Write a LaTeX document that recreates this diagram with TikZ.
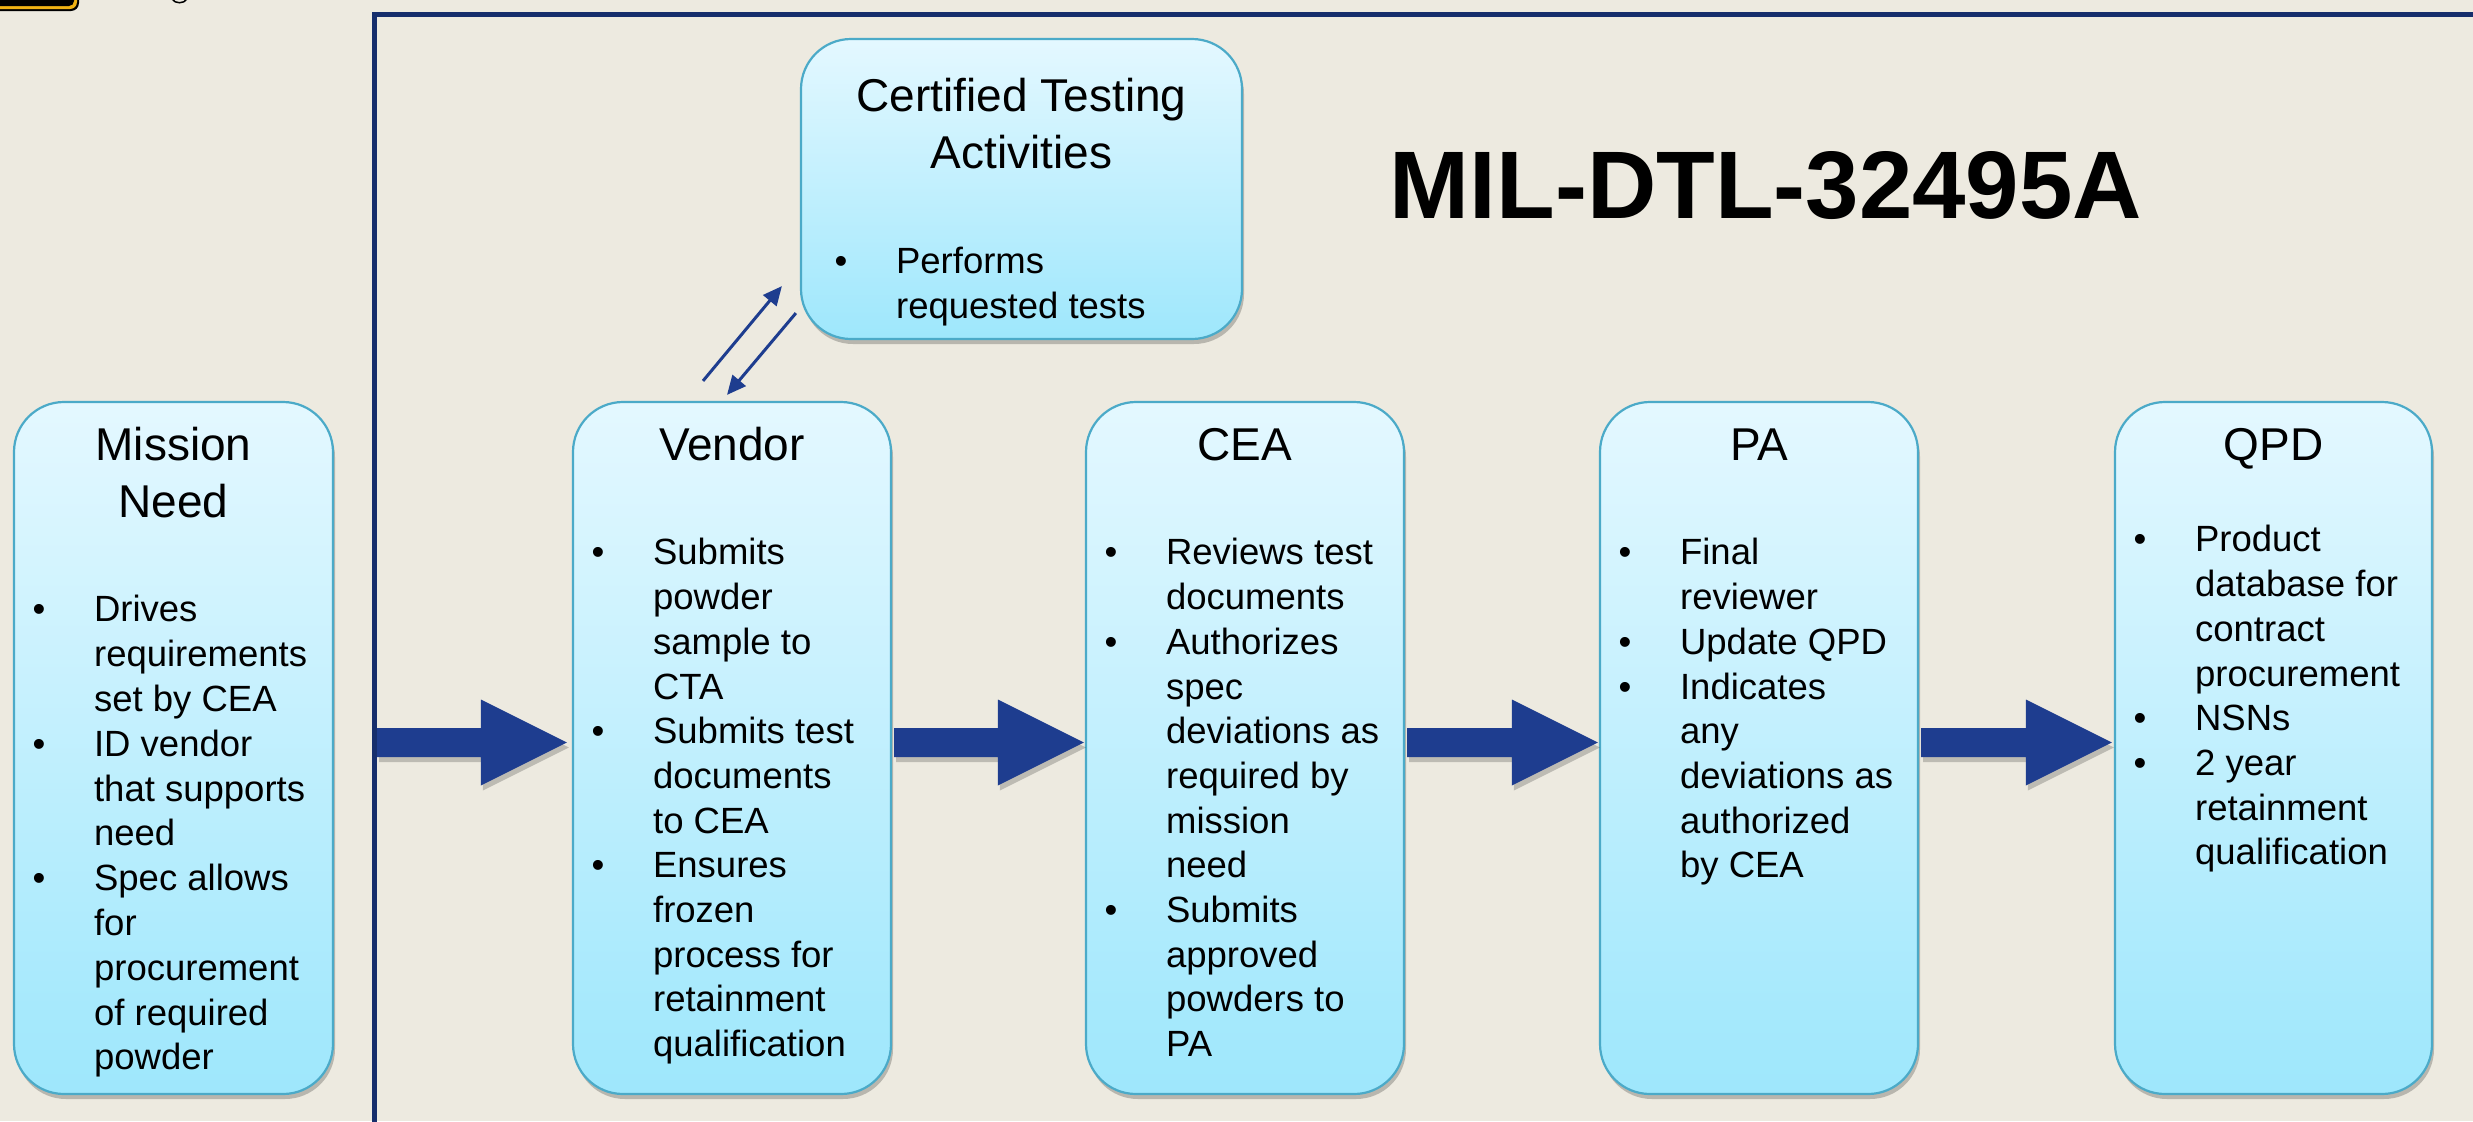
\documentclass[tikz,border=0pt]{standalone}
\usepackage{fontspec}
\setmainfont{Liberation Sans}
\usetikzlibrary{calc,arrows.meta,shadows}
\definecolor{bg}{RGB}{237,234,224}
\definecolor{boxtop}{RGB}{228,248,255}
\definecolor{boxbot}{RGB}{158,231,252}
\definecolor{boxline}{RGB}{75,170,200}
\definecolor{arrowblue}{RGB}{30,61,143}
\definecolor{navy}{RGB}{22,46,108}
\definecolor{logoyellow}{RGB}{240,178,20}

\newcommand\bitm[1]{\hbox{\llap{\makebox[0pt]{\textbullet}\kern55bp}#1}}
\newcommand\litm[1]{\hbox{#1}}
\newcommand\bodylines[2]{\vtop{\baselineskip=#1\lineskiplimit=-100bp #2}}
\newcommand\ttllines[1]{\vtop{\baselineskip=57bp\lineskiplimit=-100bp\halign{\hfil##\hfil\cr#1\crcr}}}
\newcommand\bigarrow[2]{%
  \fill[black,opacity=0.2] ($(#1)+(2,-9.5)$) -- ($(#2)+(-84,-9.5)$) -- ($(#2)+(-84,-38)$) -- ($(#2)+(2,5)$) -- ($(#2)+(-84,48)$) -- ($(#2)+(-84,19.5)$) -- ($(#1)+(2,19.5)$) -- cycle;
  \fill[arrowblue] ($(#1)+(0,-14.5)$) -- ($(#2)+(-86,-14.5)$) -- ($(#2)+(-86,-43)$) -- (#2) -- ($(#2)+(-86,43)$) -- ($(#2)+(-86,14.5)$) -- ($(#1)+(0,14.5)$) -- cycle;%
}

\tikzset{
  box/.style={rectangle, rounded corners=50bp, draw=boxline, line width=2.2bp,
    top color=boxtop, bottom color=boxbot, inner sep=0pt,
    drop shadow={shadow xshift=2bp, shadow yshift=-5bp, opacity=0.22, fill=black}},
  ttl/.style={inner sep=0pt, anchor=base, font=\fontsize{46bp}{57bp}\selectfont},
  body/.style={inner sep=0pt, anchor=base west, font=\fontsize{36.5bp}{44.7bp}\selectfont},
  thinarrow/.style={draw=arrowblue, line width=3bp, -{Triangle[length=19bp,width=17bp,fill=arrowblue]}},
  frameline/.style={draw=navy, line width=5.5bp}
}

\begin{document}
\begin{tikzpicture}[x=1bp,y=-1bp]
\useasboundingbox (0,0) rectangle (2473,1121);
\fill[bg] (0,0) rectangle (2473,1121);

% logo fragment at top left
\fill[black, rounded corners=8bp] (-30,-40) rectangle (79,11);
\fill[logoyellow, rounded corners=7bp] (-30,-40) rectangle (77,9);
\fill[black, rounded corners=5bp] (-30,-40) rectangle (74,6);
\draw[black, line width=1.5bp] (172,-1) .. controls (175,4) and (184,4) .. (187,-1);

% frame
\draw[frameline] (374.5,1130) -- (374.5,14.5) -- (2480,14.5);

% boxes
\node[box, minimum width=319bp, minimum height=692bp] (mission) at (173.5,748) {};
\node[box, minimum width=318bp, minimum height=692bp] (vendor) at (732,748) {};
\node[box, minimum width=318bp, minimum height=692bp] (cea) at (1245,748) {};
\node[box, minimum width=318bp, minimum height=692bp] (pa) at (1759,748) {};
\node[box, minimum width=317bp, minimum height=692bp] (qpd) at (2273.5,748) {};
\node[box, minimum width=441bp, minimum height=300bp] (cta) at (1021.5,189) {};

% titles
\node[ttl] (missionT) at ($(mission.north)+(0,60)$) {\ttllines{Mission\cr Need}};
\node[ttl] (vendorT) at ($(vendor.north)+(0,60)$) {Vendor};
\node[ttl] (ceaT) at ($(cea.north)+(0,60)$) {CEA};
\node[ttl] (paT) at ($(pa.north)+(0,60)$) {PA};
\node[ttl] (qpdT) at ($(qpd.north)+(0,60)$) {QPD};
\node[ttl] (ctaT) at ($(cta.north)+(0,74)$) {\ttllines{Certified Testing\cr Activities}};

\node[inner sep=0pt, anchor=base, font=\fontsize{96bp}{110bp}\selectfont\bfseries] (mil) at (1766,218) {MIL-DTL-32495A};

% bodies
\node[body] (missionB) at ($(mission.north west)+(81,221)$) {\bodylines{44.8bp}{%
  \bitm{Drives}\litm{requirements}\litm{set by CEA}%
  \bitm{ID vendor}\litm{that supports}\litm{need}%
  \bitm{Spec allows}\litm{for}\litm{procurement}\litm{of required}\litm{powder}}};
\node[body] (vendorB) at ($(vendor.north west)+(81,164)$) {\bodylines{44.7bp}{%
  \bitm{Submits}\litm{powder}\litm{sample to}\litm{CTA}%
  \bitm{Submits test}\litm{documents}\litm{to CEA}%
  \bitm{Ensures}\litm{frozen}\litm{process for}\litm{retainment}\litm{qualification}}};
\node[body] (ceaB) at ($(cea.north west)+(81,164)$) {\bodylines{44.7bp}{%
  \bitm{Reviews test}\litm{documents}%
  \bitm{Authorizes}\litm{spec}\litm{deviations as}\litm{required by}\litm{mission}\litm{need}%
  \bitm{Submits}\litm{approved}\litm{powders to}\litm{PA}}};
\node[body] (paB) at ($(pa.north west)+(81,164)$) {\bodylines{44.7bp}{%
  \bitm{Final}\litm{reviewer}%
  \bitm{Update QPD}%
  \bitm{Indicates}\litm{any}\litm{deviations as}\litm{authorized}\litm{by CEA}}};
\node[body] (qpdB) at ($(qpd.north west)+(81,151)$) {\bodylines{44.7bp}{%
  \bitm{Product}\litm{database for}\litm{contract}\litm{procurement}%
  \bitm{NSNs}%
  \bitm{2 year}\litm{retainment}\litm{qualification}}};
\node[body] (ctaB) at ($(cta.north west)+(96,236)$) {\bodylines{45bp}{%
  \bitm{Performs}\litm{requested tests}}};

% big arrows
\coordinate (a1s) at (377,742.5);
\coordinate (a1e) at ($(vendor.west)+(-5,-5.5)$);
\coordinate (a2s) at ($(vendor.east)+(2,-5.5)$);
\coordinate (a2e) at ($(cea.west)+(-1,-5.5)$);
\coordinate (a3s) at ($(cea.east)+(2,-5.5)$);
\coordinate (a3e) at ($(pa.west)+(-1,-5.5)$);
\coordinate (a4s) at ($(pa.east)+(2,-5.5)$);
\coordinate (a4e) at ($(qpd.west)+(-2,-5.5)$);
\bigarrow{a1s}{a1e}
\bigarrow{a2s}{a2e}
\bigarrow{a3s}{a3e}
\bigarrow{a4s}{a4e}

% thin arrows between vendor and CTA
\coordinate (u1s) at ($(vendor.north)+(-29,-20)$);
\coordinate (u1e) at ($(cta.south west)+(-18,-54)$);
\coordinate (d1s) at ($(cta.south west)+(-4,-27)$);
\coordinate (d1e) at ($(vendor.north)+(-5,-6)$);
\draw[thinarrow] (u1s) -- (u1e);
\draw[thinarrow] (d1s) -- (d1e);
\end{tikzpicture}
\end{document}
